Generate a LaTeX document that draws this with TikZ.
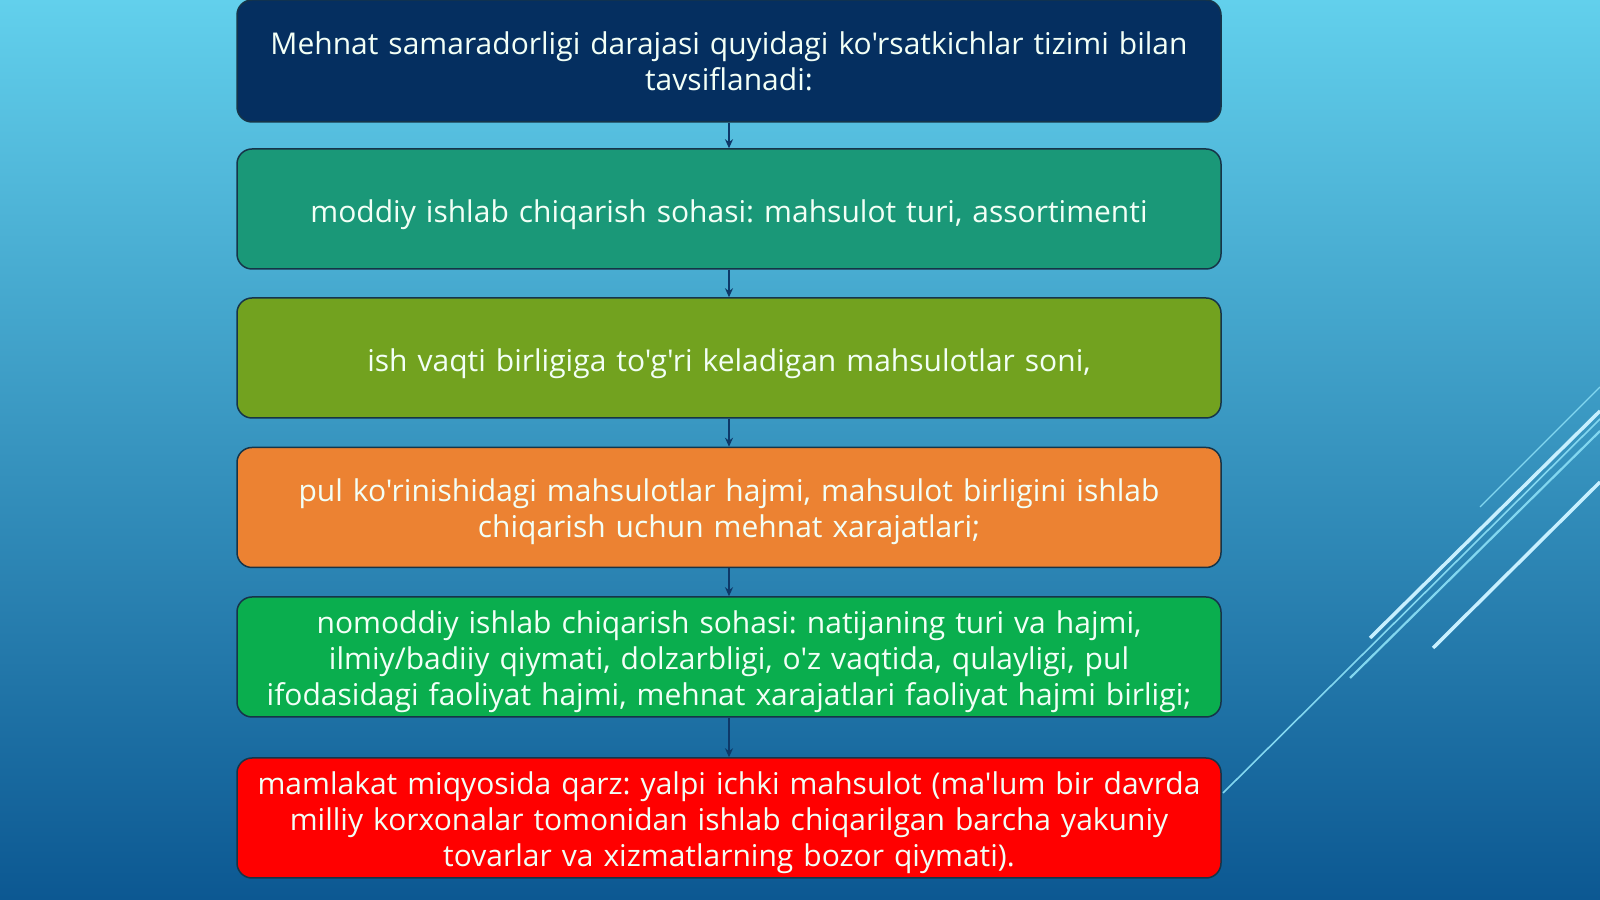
\documentclass[tikz,border=0pt]{standalone}
\usepackage{fontspec}
\setmainfont{Open Sans}[Ligatures=TeXOff]
\usetikzlibrary{arrows.meta}
\definecolor{bgtop}{RGB}{98,208,236}
\definecolor{bgmid}{RGB}{62,156,200}
\definecolor{bgbot}{RGB}{12,88,146}
\definecolor{navybox}{RGB}{5,47,96}
\definecolor{tealbox}{RGB}{26,152,120}
\definecolor{olivebox}{RGB}{114,162,31}
\definecolor{orangebox}{RGB}{236,130,50}
\definecolor{greenbox}{RGB}{10,174,78}
\definecolor{redbox}{RGB}{255,0,0}
\definecolor{boxline}{RGB}{22,52,72}
\definecolor{arrowcol}{RGB}{14,56,104}
\definecolor{boxtext}{RGB}{242,255,246}
\definecolor{strokelight}{RGB}{200,240,255}
\definecolor{strokethin}{RGB}{130,215,240}
\frenchspacing
\tikzset{
  levelbox/.style={draw=boxline, line width=1.5pt, rounded corners=15pt,
    minimum width=984pt, minimum height=120pt, text width=970pt,
    align=center, text=boxtext, inner sep=0pt,
    font=\fontsize{30}{36}\selectfont},
  textdrop/.style={execute at begin node={\rule{0pt}{#1}}},
  levelarrow/.style={draw=arrowcol, line width=2pt,
    -{Stealth[length=9pt,width=8pt]}},
}
\begin{document}
\begin{tikzpicture}[x=1pt,y=1pt]
% background
\shade[top color=bgtop, middle color=bgmid, bottom color=bgbot]
  (0,0) rectangle (1600,899);
\useasboundingbox (0,0) rectangle (1600,899);
% diagonal strokes at the right edge
\draw[strokethin, line width=1.6pt] (1223,106) -- (1600,480);
\draw[strokelight, line width=3.5pt] (1370,261) -- (1600,488);
\draw[strokethin, line width=2.2pt] (1350,221) -- (1600,468);
\draw[strokelight, line width=3.5pt] (1433,251) -- (1600,417);
\draw[strokethin, line width=1.3pt] (1480,392) -- (1600,512);
% boxes
\node[levelbox, fill=navybox, minimum height=122pt] (intro) at (729,838)
  {Mehnat samaradorligi darajasi quyidagi ko'rsatkichlar tizimi bilan\\ tavsiflanadi:};
\node[levelbox, fill=tealbox, textdrop=34pt] (moddiy) at (729,690)
  {moddiy ishlab chiqarish sohasi: mahsulot turi, assortimenti};
\node[levelbox, fill=olivebox, textdrop=34pt] (vaqt) at (729,541)
  {ish vaqti birligiga to'g'ri keladigan mahsulotlar soni,};
\node[levelbox, fill=orangebox, textdrop=32pt] (pul) at (729,391.5)
  {pul ko'rinishidagi mahsulotlar hajmi, mahsulot birligini ishlab\\ chiqarish uchun mehnat xarajatlari;};
\node[levelbox, fill=greenbox, textdrop=32pt] (nomoddiy) at (729,242)
  {nomoddiy ishlab chiqarish sohasi: natijaning turi va hajmi,\\ ilmiy/badiiy qiymati, dolzarbligi, o'z vaqtida, qulayligi, pul\\ ifodasidagi faoliyat hajmi, mehnat xarajatlari faoliyat hajmi birligi;};
\node[levelbox, fill=redbox, textdrop=32pt] (mamlakat) at (729,81)
  {mamlakat miqyosida qarz: yalpi ichki mahsulot (ma'lum bir davrda\\ milliy korxonalar tomonidan ishlab chiqarilgan barcha yakuniy\\ tovarlar va xizmatlarning bozor qiymati).};
% connectors
\foreach \a/\b in {intro/moddiy, moddiy/vaqt, vaqt/pul, pul/nomoddiy, nomoddiy/mamlakat}
  \draw[levelarrow] (\a.south) -- (\b.north);
\end{tikzpicture}
\end{document}
